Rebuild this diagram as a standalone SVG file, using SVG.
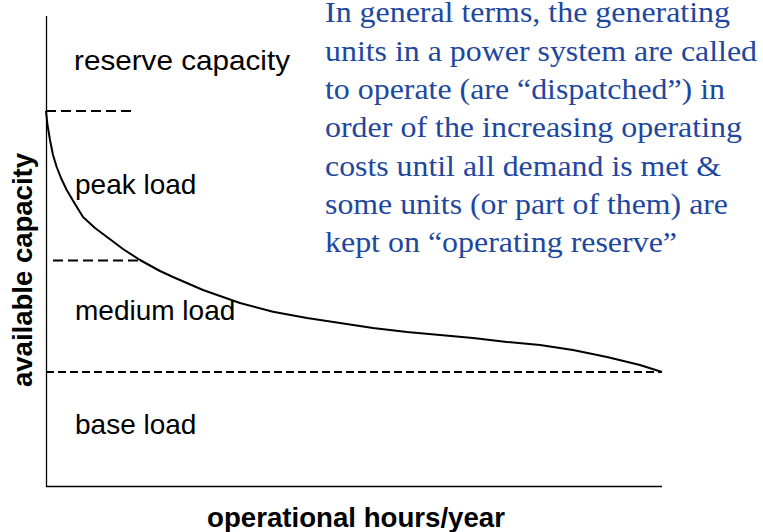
<svg xmlns="http://www.w3.org/2000/svg" width="763" height="532" viewBox="0 0 763 532">
<style>
.lbl{font-family:"Liberation Sans",Arial,sans-serif;font-size:28px;fill:#000}
.ax{font-family:"Liberation Sans",Arial,sans-serif;font-size:28px;font-weight:bold;fill:#000}
.note{font-family:"Liberation Serif","Times New Roman",serif;font-size:29px;fill:#1E47A0}
.axis{stroke:#000;stroke-width:1.3;fill:none}
.dash{stroke:#000;stroke-width:1.8;fill:none}
.curve{stroke:#000;stroke-width:2;fill:none;stroke-linejoin:round}
</style>
<rect width="763" height="532" fill="#fff"/>
<g id="axes">
<line class="axis" x1="46.5" y1="16" x2="46.5" y2="486.5"/>
<line class="axis" x1="46" y1="486.5" x2="662" y2="486.5"/>
</g>
<g id="connectors">
<line class="dash" x1="46" y1="111" x2="134" y2="111" stroke-dasharray="10,5"/>
<line class="dash" x1="53" y1="260.5" x2="140" y2="260.5" stroke-dasharray="10,5"/>
<line class="dash" x1="46" y1="372" x2="662" y2="372" stroke-dasharray="8,4"/>
<path class="curve" d="M46,111 L47.5,125 L50,140 L53,155 L56.7,167 L61,178 L66.7,190 L75,204 L83,217 L95,228 L107,237 L123,249 L140,260 L160,271 L173,277 L203,290 L240,303 L273,311.7 L307,318 L340,323 L373,328 L407,332 L440,335 L473,338 L507,342 L540,345 L573,350 L607,357 L640,365 L662,372"/>
</g>
<g id="reserve"><text class="lbl" x="74" y="70" textLength="216" lengthAdjust="spacingAndGlyphs">reserve capacity</text></g>
<g id="peak"><text class="lbl" x="75" y="194">peak load</text></g>
<g id="medium"><text class="lbl" x="75" y="320">medium load</text></g>
<g id="base"><text class="lbl" x="75" y="434">base load</text></g>
<g id="xlabel"><text class="ax" x="207" y="527" textLength="298" lengthAdjust="spacingAndGlyphs">operational hours/year</text></g>
<g id="ylabel"><text class="ax" transform="translate(32,270) rotate(-90)" text-anchor="middle" textLength="234" lengthAdjust="spacingAndGlyphs">available capacity</text></g>
<g id="note">
<text class="note" x="325" y="22" textLength="405" lengthAdjust="spacingAndGlyphs">In general terms, the generating</text>
<text class="note" x="325" y="60.5" textLength="432" lengthAdjust="spacingAndGlyphs">units in a power system are called</text>
<text class="note" x="325" y="99" textLength="400" lengthAdjust="spacingAndGlyphs">to operate (are “dispatched”) in</text>
<text class="note" x="325" y="137" textLength="417" lengthAdjust="spacingAndGlyphs">order of the increasing operating</text>
<text class="note" x="325" y="175.5" textLength="396" lengthAdjust="spacingAndGlyphs">costs until all demand is met &amp;</text>
<text class="note" x="325" y="214" textLength="403" lengthAdjust="spacingAndGlyphs">some units (or part of them) are</text>
<text class="note" x="325" y="252" textLength="352" lengthAdjust="spacingAndGlyphs">kept on “operating reserve”</text>
</g>
</svg>
